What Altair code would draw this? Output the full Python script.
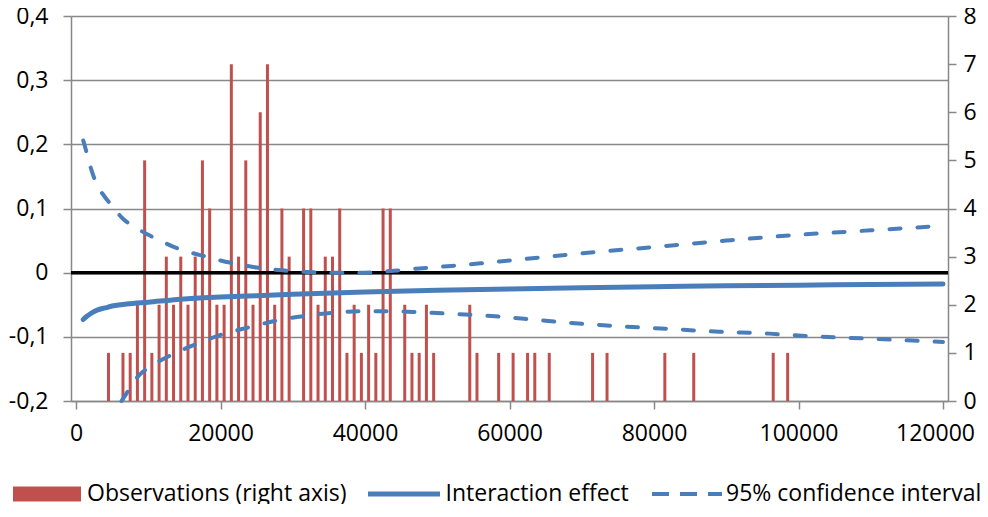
import altair as alt
import pandas as pd

# ---- data ----
bar_x = [4500, 6500, 7500, 8500, 9500, 10500, 11500, 12500, 13500, 14500, 15500, 16500,
         17500, 18500, 19500, 20500, 21500, 22500, 23500, 24500, 25500, 26500, 27500,
         28500, 29500, 31500, 32500, 33500, 34500, 35500, 36500, 37500, 38500, 39500,
         40500, 41500, 42500, 43500, 45500, 46500, 47500, 48500, 49500, 54500, 55500,
         58500, 60500, 62500, 63500, 65500, 71500, 73500, 81500, 85500, 96500, 98500]
bar_n = [1, 1, 1, 2, 5, 1, 2, 3, 2, 3, 2, 3,
         5, 4, 2, 2, 7, 3, 5, 2, 6, 7, 2,
         4, 3, 4, 4, 2, 3, 3, 4, 1, 2, 1,
         2, 1, 4, 4, 2, 1, 1, 2, 1, 2, 1,
         1, 1, 1, 1, 1, 1, 1, 1, 1, 1, 1]

eff_x = [1000, 1500, 2000, 3000, 4000, 5000, 7000, 10000, 15000, 20000, 25000, 30000,
         40000, 50000, 60000, 70000, 80000, 90000, 100000, 110000, 120000]
eff_y = [-0.073, -0.068, -0.064, -0.058, -0.055, -0.052, -0.049, -0.046, -0.041, -0.038,
         -0.036, -0.0335, -0.030, -0.0275, -0.0255, -0.0235, -0.022, -0.0205, -0.0195,
         -0.0185, -0.0175]

up_x = [1000, 1500, 2000, 2500, 3000, 4000, 5000, 6500, 8000, 10000, 12000, 14000, 16000,
        18000, 20000, 22500, 25000, 28000, 32000, 36000, 40000, 44000, 48000, 52000, 56000,
        60000, 64000, 70000, 80000, 90000, 100000, 110000, 120000]
up_y = [0.206, 0.186, 0.165, 0.148, 0.135, 0.118, 0.104, 0.084, 0.072, 0.059, 0.048, 0.038,
        0.031, 0.025, 0.019, 0.013, 0.008, 0.004, 0.001, 0.0, 0.0, 0.003, 0.007, 0.0105,
        0.0145, 0.019, 0.0235, 0.030, 0.040, 0.050, 0.059, 0.066, 0.073]

lo_x = [6300, 7000, 8000, 9000, 10500, 12000, 14000, 16500, 20000, 24000, 28000, 32000,
        36000, 40000, 44000, 48000, 52000, 58000, 65000, 73000, 81000, 89000, 96000,
        100000, 110000, 120000]
lo_y = [-0.200, -0.188, -0.170, -0.157, -0.145, -0.135, -0.124, -0.112, -0.097, -0.085,
        -0.074, -0.067, -0.062, -0.060, -0.060, -0.062, -0.064, -0.068, -0.075, -0.082,
        -0.087, -0.092, -0.095, -0.098, -0.103, -0.108]

left_ticks = [-0.2, -0.1, 0.0, 0.1, 0.2, 0.3, 0.4]
right_ticks = [0, 1, 2, 3, 4, 5, 6, 7, 8]
x_ticks = [0, 20000, 40000, 60000, 80000, 100000, 120000]

OBS = "Observations (right axis)"
EFF = "Interaction effect"
CI = "95% confidence interval"

FONT = "Open Sans"
FS = 23
RED = "#C0504D"
BLUE = "#4A7EBB"
GRID = "#888888"

bars_df = pd.DataFrame({"x": bar_x, "n": bar_n, "obs": OBS})
eff_df = pd.DataFrame({"x": eff_x, "y": eff_y, "eff": EFF})
ci_df = pd.concat([
    pd.DataFrame({"x": up_x, "y": up_y, "bound": "upper"}),
    pd.DataFrame({"x": lo_x, "y": lo_y, "bound": "lower"}),
], ignore_index=True)
ci_df["ci"] = CI
zero_df = pd.DataFrame({"z": [0.0]})

xscale = alt.Scale(domain=[0, 120000], nice=False, zero=False)
xaxis = alt.Axis(values=x_ticks, format="d", tickSize=8, labelPadding=13, grid=False,
                 labelFlush=False, title=None,
                 labelOffset={"condition": {"test": "datum.value == 120000", "value": -8}, "value": 0})
yl_scale = alt.Scale(domain=[-0.2, 0.4], nice=False, zero=False)
yl_axis = alt.Axis(orient="left", values=left_ticks, tickSize=8, labelPadding=15, grid=True,
                   gridColor=GRID, gridWidth=1.5, title=None,
                   labelExpr="datum.value == 0 ? '0' : (datum.value < 0 ? '-' : '') + replace(format(abs(datum.value), '.1f'), '.', ',')")
yr_scale = alt.Scale(domain=[0, 8], nice=False)
yr_axis = alt.Axis(orient="right", values=right_ticks, tickSize=8, labelPadding=7, grid=False,
                   title=None)

bars = alt.Chart(bars_df).mark_bar(size=3).encode(
    x=alt.X("x:Q", scale=xscale, axis=xaxis),
    y=alt.Y("n:Q", scale=yr_scale, axis=yr_axis),
    fill=alt.Fill("obs:N", scale=alt.Scale(domain=[OBS], range=[RED]),
                  legend=alt.Legend(title=None, orient="none", legendX=-58, legendY=444,
                                    symbolType="M-1,-0.22H1V0.22H-1Z", symbolSize=4624,
                                    symbolStrokeWidth=0, labelOffset=6, padding=0)),
)

zero = alt.Chart(zero_df).mark_rule(color="black", strokeWidth=3.5).encode(
    y=alt.Y("z:Q", scale=yl_scale, axis=yl_axis),
)

eff = alt.Chart(eff_df).mark_line(strokeWidth=5, strokeCap="round", interpolate="monotone").encode(
    x=alt.X("x:Q", scale=xscale, axis=xaxis),
    y=alt.Y("y:Q", scale=yl_scale, axis=yl_axis),
    stroke=alt.Stroke("eff:N", scale=alt.Scale(domain=[EFF], range=[BLUE]),
                      legend=alt.Legend(title=None, orient="none", legendX=294.5, legendY=439.5,
                                        symbolType="M-1,0H1", symbolSize=5184,
                                        symbolStrokeWidth=5, symbolFillColor="transparent",
                                        labelOffset=3, padding=0)),
)

ci = alt.Chart(ci_df).mark_line(strokeWidth=4, strokeCap="round", strokeDash=[11, 17],
                                interpolate="monotone").encode(
    x=alt.X("x:Q", scale=xscale, axis=xaxis),
    y=alt.Y("y:Q", scale=yl_scale, axis=yl_axis),
    detail="bound:N",
    color=alt.Color("ci:N", scale=alt.Scale(domain=[CI], range=[BLUE]),
                    legend=alt.Legend(title=None, orient="none", legendX=579, legendY=441,
                                      symbolType="M-1,0H1", symbolSize=4900,
                                      symbolStrokeWidth=4, symbolDash=[17, 11],
                                      symbolFillColor="transparent",
                                      labelOffset=2, padding=0)),
)

lines = alt.layer(zero, eff, ci)

chart = alt.layer(bars, lines).resolve_scale(y="independent").properties(
    width=877, height=385,
    autosize=alt.AutoSizeParams(type="none"),
    padding={"left": 63, "top": 8, "right": 32, "bottom": 103},
).configure_axis(
    labelFont=FONT, labelFontSize=FS, labelColor="black",
    domainColor=GRID, domainWidth=1.5, tickColor=GRID, tickWidth=1.5,
).configure_legend(
    labelFont=FONT, labelFontSize=FS, labelColor="black", labelLimit=600,
).configure_view(stroke=None)

chart.save("out.html", embed_options={"renderer": "svg", "actions": False})
